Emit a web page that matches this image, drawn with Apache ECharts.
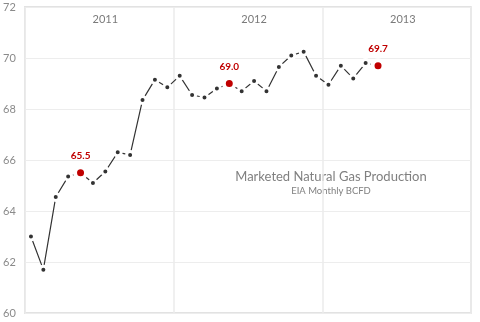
<!DOCTYPE html>
<html>
<head>
<meta charset="utf-8">
<script src="https://cdn.jsdelivr.net/npm/echarts@6/dist/echarts.min.js"></script>
<style>html,body{margin:0;padding:0;background:#fff}#c{width:480px;height:322px}</style>
</head>
<body>
<div id="c"></div>
<script>
const years = ['2011', '2012', '2013'];
const months = ['Jan','Feb','Mar','Apr','May','Jun','Jul','Aug','Sep','Oct','Nov','Dec'];
const production = [63.0, 61.7, 64.55, 65.35, 65.5, 65.1, 65.55, 66.3, 66.2, 68.35, 69.15, 68.85,
  69.3, 68.55, 68.45, 68.8, 69.0, 68.7, 69.1, 68.7, 69.65, 70.1, 70.25, 69.3,
  68.95, 69.7, 69.2, 69.8, 69.7];
const highlightIdx = [4, 16, 28];
const titleText = 'Marketed Natural Gas Production';
const subtitleText = 'EIA Monthly BCFD';

const categories = [];
years.forEach(y => months.forEach(m => categories.push(m + ' ' + y)));

const seriesData = production.map((v, i) => {
  if (highlightIdx.indexOf(i) >= 0) {
    return {
      value: v,
      symbolSize: 11,
      itemStyle: { color: '#c00000', borderColor: '#fff', borderWidth: 4 },
      label: {
        show: true, position: 'top', distance: 4,
        formatter: v.toFixed(1), color: '#c00000',
        fontSize: 10, fontWeight: 'bold', fontFamily: 'Lato'
      }
    };
  }
  return v;
});

const chart = echarts.init(document.getElementById('c'), null, { renderer: 'canvas' });
chart.setOption({
  animation: false,
  backgroundColor: '#fff',
  grid: { left: 23, right: 9, top: 7, bottom: 9, show: true, borderColor: '#d9d9d9', borderWidth: 1.5, backgroundColor: 'transparent' },
  xAxis: {
    type: 'category',
    position: 'top',
    data: categories,
    boundaryGap: true,
    axisLine: { show: false },
    axisTick: { show: false },
    axisLabel: {
      inside: true,
      margin: 7,
      interval: (i) => i % 12 === 6,
      formatter: (v) => v.split(' ')[1],
      color: '#7a7a7a', fontSize: 11, fontFamily: 'Lato'
    },
    splitLine: {
      show: true,
      interval: (i) => i % 12 === 0,
      lineStyle: { color: '#ebebeb', width: 1.5 }
    }
  },
  yAxis: {
    type: 'value',
    min: 60, max: 72, interval: 2,
    axisLine: { show: false },
    axisTick: { show: false },
    axisLabel: { color: '#8a8a8a', fontSize: 11, fontFamily: 'Lato', margin: 9 },
    splitLine: { lineStyle: { color: '#ededed', width: 1 } }
  },
  graphic: [
    { type: 'text', x: 331, y: 177, style: { text: titleText, textAlign: 'center', textVerticalAlign: 'middle', fill: '#808080', fontSize: 13, fontFamily: 'Lato' } },
    { type: 'text', x: 331, y: 191, style: { text: subtitleText, textAlign: 'center', textVerticalAlign: 'middle', fill: '#808080', fontSize: 9.5, fontFamily: 'Lato' } }
  ],
  series: [{
    type: 'line',
    data: seriesData,
    symbol: 'circle',
    symbolSize: 7,
    showAllSymbol: true,
    lineStyle: { color: '#333', width: 1.2 },
    itemStyle: { color: '#333', borderColor: '#fff', borderWidth: 3 },
    z: 3
  }]
});
</script>
</body>
</html>
